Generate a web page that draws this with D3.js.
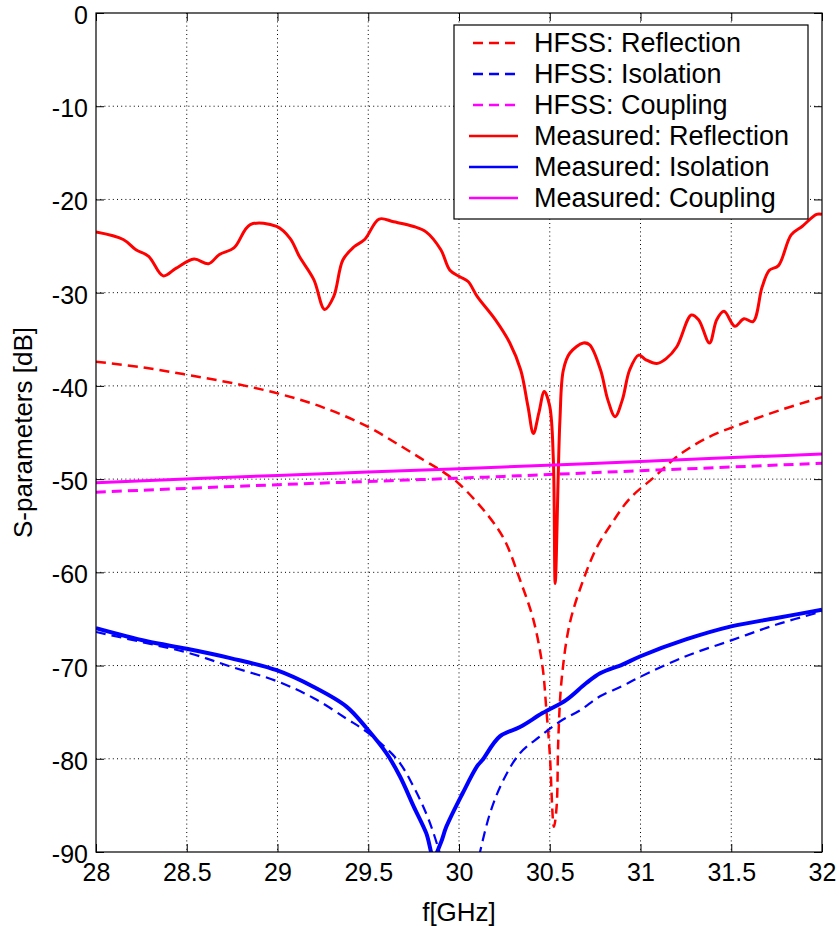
<!DOCTYPE html>
<html>
<head>
<meta charset="utf-8">
<script src="https://cdn.jsdelivr.net/npm/d3@7"></script>
<style>
  body { margin: 0; background: #fff; }
  text { font-family: "Liberation Sans", Arial, sans-serif; fill: #000; }
</style>
</head>
<body>
<div id="chart"></div>
<script>
// tick values
var xTicks = [28, 28.5, 29, 29.5, 30, 30.5, 31, 31.5, 32];
var yTicks = [0, -10, -20, -30, -40, -50, -60, -70, -80, -90];

// series: [f GHz, dB]
var hfssReflection = [
  [28.0, -37.4], [28.25, -38.0], [28.5, -38.8], [28.75, -39.7], [29.0, -40.8],
  [29.25, -42.3], [29.5, -44.4], [29.675, -46.4], [29.8, -47.9], [29.91, -49.2],
  [30.0, -50.5], [30.16, -53.9], [30.25, -56.5], [30.336, -60.8], [30.41, -65.1],
  [30.46, -70.1], [30.48, -74.4], [30.5, -79.4], [30.523, -87.3], [30.538, -85.1],
  [30.547, -78.0], [30.565, -71.6], [30.61, -65.5], [30.685, -60.8], [30.76, -57.3],
  [30.85, -54.5], [30.94, -52.1], [31.08, -49.7], [31.2, -47.6], [31.365, -45.6],
  [31.567, -44.0], [31.77, -42.6], [32.0, -41.2]
];
var hfssIsolation = [
  [28.0, -66.4], [28.28, -67.6], [28.52, -68.7], [28.74, -70.1], [29.0, -71.7],
  [29.2, -73.5], [29.38, -75.7], [29.49, -77.1], [29.66, -80.1], [29.75, -83.0],
  [29.82, -85.9], [29.86, -88.0], [29.9, -90.5]
];
var hfssIsolation2 = [
  [30.11, -90.5], [30.17, -85.9], [30.244, -82.3], [30.336, -79.4], [30.446, -77.6],
  [30.556, -76.0], [30.667, -74.8], [30.777, -73.3], [30.9, -72.2], [31.0, -71.2],
  [31.25, -69.0], [31.5, -67.3], [31.75, -65.6], [32.0, -64.2]
];
var hfssCoupling = [[28.0, -51.4], [29.0, -50.6], [30.0, -49.9], [31.0, -49.1], [32.0, -48.3]];

var measReflection = [
  [28.0, -23.5], [28.15, -24.3], [28.22, -25.4], [28.29, -26.1], [28.37, -28.2],
  [28.44, -27.4], [28.54, -26.4], [28.62, -26.9], [28.68, -25.9], [28.76, -25.2],
  [28.85, -22.7], [28.995, -22.9], [29.07, -24.2], [29.12, -26.1], [29.2, -28.6],
  [29.26, -31.8], [29.31, -30.4], [29.36, -26.5], [29.42, -25.1], [29.48, -24.3],
  [29.56, -22.1], [29.64, -22.4], [29.75, -22.9], [29.82, -23.5], [29.9, -25.4],
  [29.95, -27.6], [30.005, -28.3], [30.05, -28.8], [30.1, -30.4], [30.2, -32.9],
  [30.28, -35.4], [30.34, -38.3], [30.38, -42.2], [30.41, -45.1], [30.44, -42.9],
  [30.47, -40.6], [30.5, -42.2], [30.52, -48.0], [30.53, -61.2], [30.556, -43.7],
  [30.575, -38.3], [30.61, -36.5], [30.685, -35.4], [30.72, -35.6], [30.78, -38.3],
  [30.82, -41.5], [30.86, -43.3], [30.9, -41.5], [30.94, -38.3], [30.99, -36.7],
  [31.03, -37.2], [31.09, -37.6], [31.14, -37.1], [31.2, -35.8], [31.28, -32.4],
  [31.32, -32.9], [31.38, -35.4], [31.42, -32.9], [31.46, -32.0], [31.52, -33.6],
  [31.57, -32.8], [31.62, -33.1], [31.67, -29.4], [31.71, -27.6], [31.76, -27.1],
  [31.83, -23.8], [31.89, -22.9], [31.97, -21.6], [32.0, -21.6]
];
var measIsolation = [
  [28.0, -66.0], [28.28, -67.4], [28.5, -68.2], [28.74, -69.2], [28.995, -70.5],
  [29.2, -72.3], [29.38, -74.4], [29.49, -76.7], [29.6, -79.4], [29.675, -81.9],
  [29.75, -85.1], [29.82, -88.0], [29.86, -90.5], [29.9, -89.0], [29.93, -87.3],
  [30.02, -83.7], [30.1, -80.8], [30.13, -80.1], [30.225, -77.6], [30.336, -76.6],
  [30.46, -75.1], [30.59, -73.7], [30.7, -71.9], [30.78, -70.8], [30.9, -69.9],
  [31.0, -69.0], [31.25, -67.2], [31.5, -65.8], [31.75, -64.9], [32.0, -64.0]
];
var measCoupling = [[28.0, -50.4], [29.0, -49.6], [30.0, -48.9], [31.0, -48.1], [32.0, -47.3]];

var legendNames = [
  "HFSS: Reflection", "HFSS: Isolation", "HFSS: Coupling",
  "Measured: Reflection", "Measured: Isolation", "Measured: Coupling"
];

var svgWidth = 839;
var svgHeight = 926;
var margin = { top: 13, right: 17, bottom: 74, left: 96 };
var width = svgWidth - margin.left - margin.right;
var height = svgHeight - margin.top - margin.bottom;

var svg = d3.select("#chart")
  .append("svg")
  .attr("width", svgWidth)
  .attr("height", svgHeight);

var chartGroup = svg.append("g")
  .attr("transform", `translate(${margin.left}, ${margin.top})`);

var x = d3.scaleLinear().domain([28, 32]).range([0, width]);
var y = d3.scaleLinear().domain([-90, 0]).range([height, 0]);

// dotted grid
var grid = chartGroup.append("g");
grid.selectAll(".vgrid")
  .data(xTicks.slice(1, -1))
  .enter()
  .append("line")
  .attr("x1", d => x(d)).attr("x2", d => x(d))
  .attr("y1", 0).attr("y2", height);
grid.selectAll(".hgrid")
  .data(yTicks.slice(1, -1))
  .enter()
  .append("line")
  .attr("x1", 0).attr("x2", width)
  .attr("y1", d => y(d)).attr("y2", d => y(d));
grid.selectAll("line")
  .attr("stroke", "#000")
  .attr("stroke-width", 1)
  .attr("stroke-dasharray", "1,3.2");

// axes with inward ticks
var fmt = d => String(d);
var xAxis = chartGroup.append("g")
  .attr("transform", `translate(0, ${height})`)
  .call(d3.axisBottom(x).tickValues(xTicks).tickFormat(fmt).tickSize(-8).tickPadding(11));
var yAxis = chartGroup.append("g")
  .call(d3.axisLeft(y).tickValues(yTicks).tickFormat(fmt).tickSize(-8).tickPadding(8));
chartGroup.append("g")
  .call(d3.axisTop(x).tickValues(xTicks).tickFormat("").tickSize(-8));
chartGroup.append("g")
  .attr("transform", `translate(${width}, 0)`)
  .call(d3.axisRight(y).tickValues(yTicks).tickFormat("").tickSize(-8));

chartGroup.selectAll(".domain").remove();
chartGroup.selectAll(".tick line").attr("stroke", "#000");
chartGroup.selectAll(".tick text")
  .attr("font-size", "25px")
  .attr("font-family", "Liberation Sans, Arial, sans-serif")
  .attr("fill", "#000");
yAxis.selectAll(".tick text").attr("dy", "0.42em");

// clip curves to the axes box
chartGroup.append("clipPath").attr("id", "clip")
  .append("rect").attr("width", width).attr("height", height);

var line = d3.line()
  .x(d => x(d[0]))
  .y(d => y(d[1]))
  .curve(d3.curveCatmullRom.alpha(0.5));
var curves = chartGroup.append("g").attr("clip-path", "url(#clip)");

function drawCurve(data, color, dashed, w) {
  curves.append("path")
    .datum(data)
    .attr("d", line)
    .attr("fill", "none")
    .attr("stroke", color)
    .attr("stroke-width", w)
    .attr("stroke-linejoin", "round")
    .attr("stroke-dasharray", dashed ? "10,6" : null);
}

drawCurve(hfssReflection, "#ff0000", true, 2.5);
drawCurve(hfssIsolation, "#0000ff", true, 2.2);
drawCurve(hfssIsolation2, "#0000ff", true, 2.2);
drawCurve(hfssCoupling, "#ff00ff", true, 3);
drawCurve(measReflection, "#ff0000", false, 3);
drawCurve(measIsolation, "#0000ff", false, 4);
drawCurve(measCoupling, "#ff00ff", false, 3);

// frame
chartGroup.append("rect")
  .attr("width", width).attr("height", height)
  .attr("fill", "none").attr("stroke", "#000").attr("stroke-width", 1.2);

// axis labels
svg.append("text")
  .attr("x", margin.left + width / 2)
  .attr("y", 921)
  .attr("text-anchor", "middle")
  .attr("font-size", "26px")
  .text("f[GHz]");

svg.append("text")
  .attr("transform", `translate(32, ${margin.top + height / 2}) rotate(-90)`)
  .attr("text-anchor", "middle")
  .attr("font-size", "26px")
  .text("S-parameters [dB]");

// legend
var legendColors = ["#ff0000", "#0000ff", "#ff00ff", "#ff0000", "#0000ff", "#ff00ff"];
var legend = svg.append("g").attr("transform", "translate(454, 25)");
legend.append("rect")
  .attr("width", 354).attr("height", 194)
  .attr("fill", "#fff").attr("stroke", "#000").attr("stroke-width", 1.2);

var rows = legend.selectAll(".row")
  .data(legendNames)
  .enter()
  .append("g")
  .attr("transform", (d, i) => `translate(0, ${18 + i * 31})`);

rows.append("line")
  .attr("x1", (d, i) => i < 3 ? 19 : 15)
  .attr("x2", 64)
  .attr("y1", 0).attr("y2", 0)
  .attr("stroke", (d, i) => legendColors[i])
  .attr("stroke-width", 2.5)
  .attr("stroke-dasharray", (d, i) => i < 3 ? "10,6" : null);

rows.append("text")
  .attr("x", 80)
  .attr("dy", "0.35em")
  .attr("font-size", "27px")
  .text(d => d);
</script>
</body>
</html>
